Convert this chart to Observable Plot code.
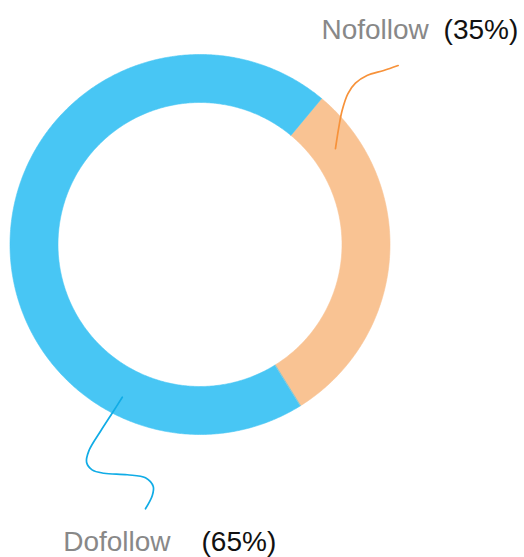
<!DOCTYPE html>
<html>
<head>
<meta charset="utf-8">
<script src="https://cdn.jsdelivr.net/npm/d3@7"></script>
<script src="https://cdn.jsdelivr.net/npm/@observablehq/plot@0.6"></script>
<style>
  html, body { margin: 0; padding: 0; background: #fff; }
  svg { display: block; }
</style>
</head>
<body>
<div id="chart"></div>
<script>
// ---- data ----
const categories = ["Nofollow", "Dofollow"];
const sliceValues = [30.1, 69.9];          // share of the ring as drawn
const percentLabels = ["(35%)", "(65%)"];  // labels as printed
const sliceColors = ["#F9C393", "#48C6F4"];
const leaderColors = ["#F7923A", "#10ACE6"];
// leader line paths (in donut units: outer radius = 1, centre = 0,0)
const nofollowLeader = [[0.713,0.505],[0.731,0.619],[0.748,0.705],[0.778,0.793],[0.818,0.849],[0.879,0.889],[0.967,0.916],[1.043,0.942]];
const dofollowLeader = [[-0.409,-0.804],[-0.459,-0.883],[-0.521,-0.979],[-0.585,-1.086],[-0.597,-1.146],[-0.568,-1.186],[-0.506,-1.204],[-0.383,-1.212],[-0.287,-1.228],[-0.246,-1.274],[-0.251,-1.321],[-0.287,-1.391]];
// label anchors (donut units)
const labelPos = [[0.639, 1.079], [-0.720, -1.613]];
const pctPos = [[1.282, 1.079], [0.008, -1.613]];

// ---- geometry from data ----
const innerRatio = 142 / 190;
const startAngle = 39.8 * Math.PI / 180;
const pie = d3.pie().sort(null).startAngle(startAngle).endAngle(startAngle + 2 * Math.PI);
const arcs = pie(sliceValues);
const ringPts = [];
arcs.forEach((a, i) => {
  const n = Math.max(8, Math.ceil((a.endAngle - a.startAngle) / (Math.PI / 360)));
  for (let k = 0; k <= n; k++) {
    const t = a.startAngle + (a.endAngle - a.startAngle) * k / n;
    ringPts.push({key: categories[i], x: Math.sin(t), y: Math.cos(t)});
  }
  for (let k = n; k >= 0; k--) {
    const t = a.startAngle + (a.endAngle - a.startAngle) * k / n;
    ringPts.push({key: categories[i], x: innerRatio * Math.sin(t), y: innerRatio * Math.cos(t)});
  }
});
const leaders = [
  ...nofollowLeader.map(([x, y]) => ({key: categories[0], x, y})),
  ...dofollowLeader.map(([x, y]) => ({key: categories[1], x, y}))
];
const nameLabels = categories.map((c, i) => ({text: c, x: labelPos[i][0], y: labelPos[i][1]}));
const pctLabels = percentLabels.map((c, i) => ({text: c, x: pctPos[i][0], y: pctPos[i][1]}));

const colorOf = Object.fromEntries(categories.map((c, i) => [c, sliceColors[i]]));
const leaderOf = Object.fromEntries(categories.map((c, i) => [c, leaderColors[i]]));

const chart = Plot.plot({
  width: 524,
  height: 557,
  margin: 0,
  style: {fontFamily: "'Liberation Sans', Arial, sans-serif", background: "#fff"},
  x: {domain: [-1, 1], range: [9.5, 389.5], axis: null},
  y: {domain: [-1, 1], range: [434, 54], axis: null},
  marks: [
    Plot.line(ringPts, {x: "x", y: "y", z: "key", curve: "linear-closed",
      fill: d => colorOf[d.key], stroke: d => colorOf[d.key], strokeWidth: 0.6}),
    Plot.line(leaders, {x: "x", y: "y", z: "key", curve: "catmull-rom",
      stroke: d => leaderOf[d.key], strokeWidth: 1.7}),
    Plot.text(nameLabels, {x: "x", y: "y", text: "text", textAnchor: "start", lineAnchor: "bottom",
      fill: "#888888", fontSize: 28}),
    Plot.text(pctLabels, {x: "x", y: "y", text: "text", textAnchor: "start", lineAnchor: "bottom",
      fill: "#111111", fontSize: 28})
  ]
});
document.getElementById("chart").appendChild(chart);
</script>
</body>
</html>
